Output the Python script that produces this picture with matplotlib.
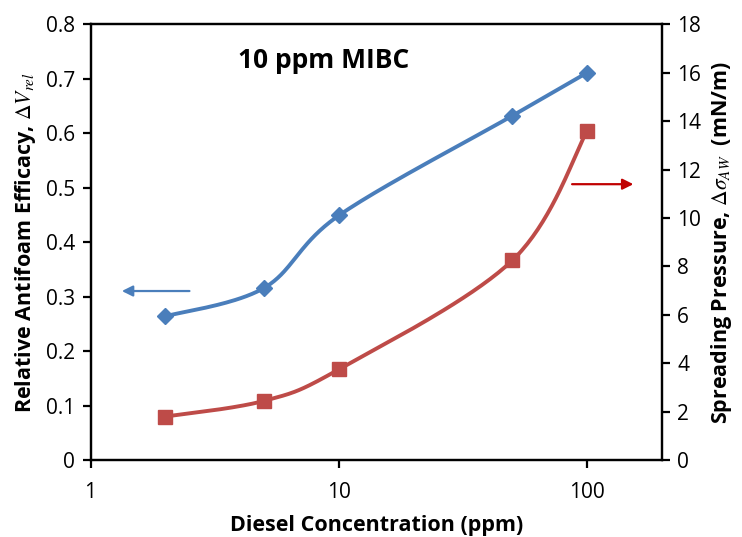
import numpy as np
import matplotlib.pyplot as plt

plt.rcParams['font.family'] = ['Open Sans', 'DejaVu Sans']
plt.rcParams['mathtext.fontset'] = 'stix'

# data
diesel = [2, 5, 10, 50, 100]
efficacy = [0.264, 0.316, 0.449, 0.632, 0.711]
spreading = [1.8, 2.45, 3.75, 8.25, 13.6]

blue = '#4A7EBB'
red = '#BE4B48'

XMAX = 200


def smooth(xs, ys, ymax, w=571.0, h=436.0, n=40):
    # Excel style bezier smoothing, done in screen-like coordinates
    u = np.log10(xs) / np.log10(XMAX) * w
    v = np.array(ys) / ymax * h
    P = np.column_stack([u, v])
    P = np.vstack([P[0], P, P[-1]])
    out = []
    t = np.linspace(0, 1, n)[:, None]
    for i in range(1, len(P) - 2):
        p0, p1 = P[i], P[i + 1]
        c1 = p0 + (P[i + 1] - P[i - 1]) / 6.0
        c2 = p1 - (P[i + 2] - P[i]) / 6.0
        seg = (1 - t) ** 3 * p0 + 3 * (1 - t) ** 2 * t * c1 + 3 * (1 - t) * t ** 2 * c2 + t ** 3 * p1
        out.append(seg)
    out = np.vstack(out)
    return 10 ** (out[:, 0] / w * np.log10(XMAX)), out[:, 1] / h * ymax


fig = plt.figure(figsize=(7.42, 5.37), dpi=100)
ax = fig.add_axes([0.122, 0.143, 0.770, 0.812])
ax2 = ax.twinx()

sx, sy = smooth(diesel, efficacy, 0.8)
ax.plot(sx, sy, color=blue, lw=2.8, solid_capstyle='round')
ax.plot(diesel, efficacy, 'D', color=blue, ms=8.5, mec=blue)

rx, ry = smooth(diesel, spreading, 18)
ax2.plot(rx, ry, color=red, lw=2.8, solid_capstyle='round')
ax2.plot(diesel, spreading, 's', color=red, ms=10.5, mec=red)

ax.set_xscale('log')
ax.set_xlim(1, XMAX)
ax.set_ylim(0, 0.8)
ax2.set_ylim(0, 18)
ax.set_xticks([1, 10, 100])
ax.set_xticklabels(['1', '10', '100'])
ax.xaxis.set_minor_locator(plt.NullLocator())
ax.set_yticks(np.arange(0, 0.81, 0.1))
ax.set_yticklabels(['0'] + ['%.1f' % v for v in np.arange(0.1, 0.81, 0.1)])
ax2.set_yticks(range(0, 19, 2))

for a in (ax, ax2):
    for s in a.spines.values():
        s.set_linewidth(1.6)
    a.tick_params(width=1.6, length=6, labelsize=15, direction='out', pad=5)
ax.tick_params(axis='x', pad=10)

ax.set_xlabel('Diesel Concentration (ppm)', fontsize=15.5, fontweight='bold', labelpad=8)
ax.set_ylabel(r'Relative Antifoam Efficacy, $\mathit{\Delta V_{rel}}$', fontsize=15.5,
              fontweight='bold', labelpad=6)
ax2.set_ylabel(r'Spreading Pressure, $\mathit{\Delta\sigma_{AW}}$  (mN/m)', fontsize=15.5,
               fontweight='bold', labelpad=6)

ax.text(0.408, 0.917, '10 ppm MIBC', transform=ax.transAxes, fontsize=19,
        fontweight='bold', ha='center', va='center')

ax.annotate('', xy=(0.05, 0.388), xytext=(0.178, 0.388), xycoords='axes fraction',
            arrowprops=dict(arrowstyle='-|>', color=blue, lw=1.6, mutation_scale=16))
ax.annotate('', xy=(0.955, 0.633), xytext=(0.838, 0.633), xycoords='axes fraction',
            arrowprops=dict(arrowstyle='-|>', color='#C00000', lw=1.6, mutation_scale=16))

fig.savefig('out.png', dpi=100)
